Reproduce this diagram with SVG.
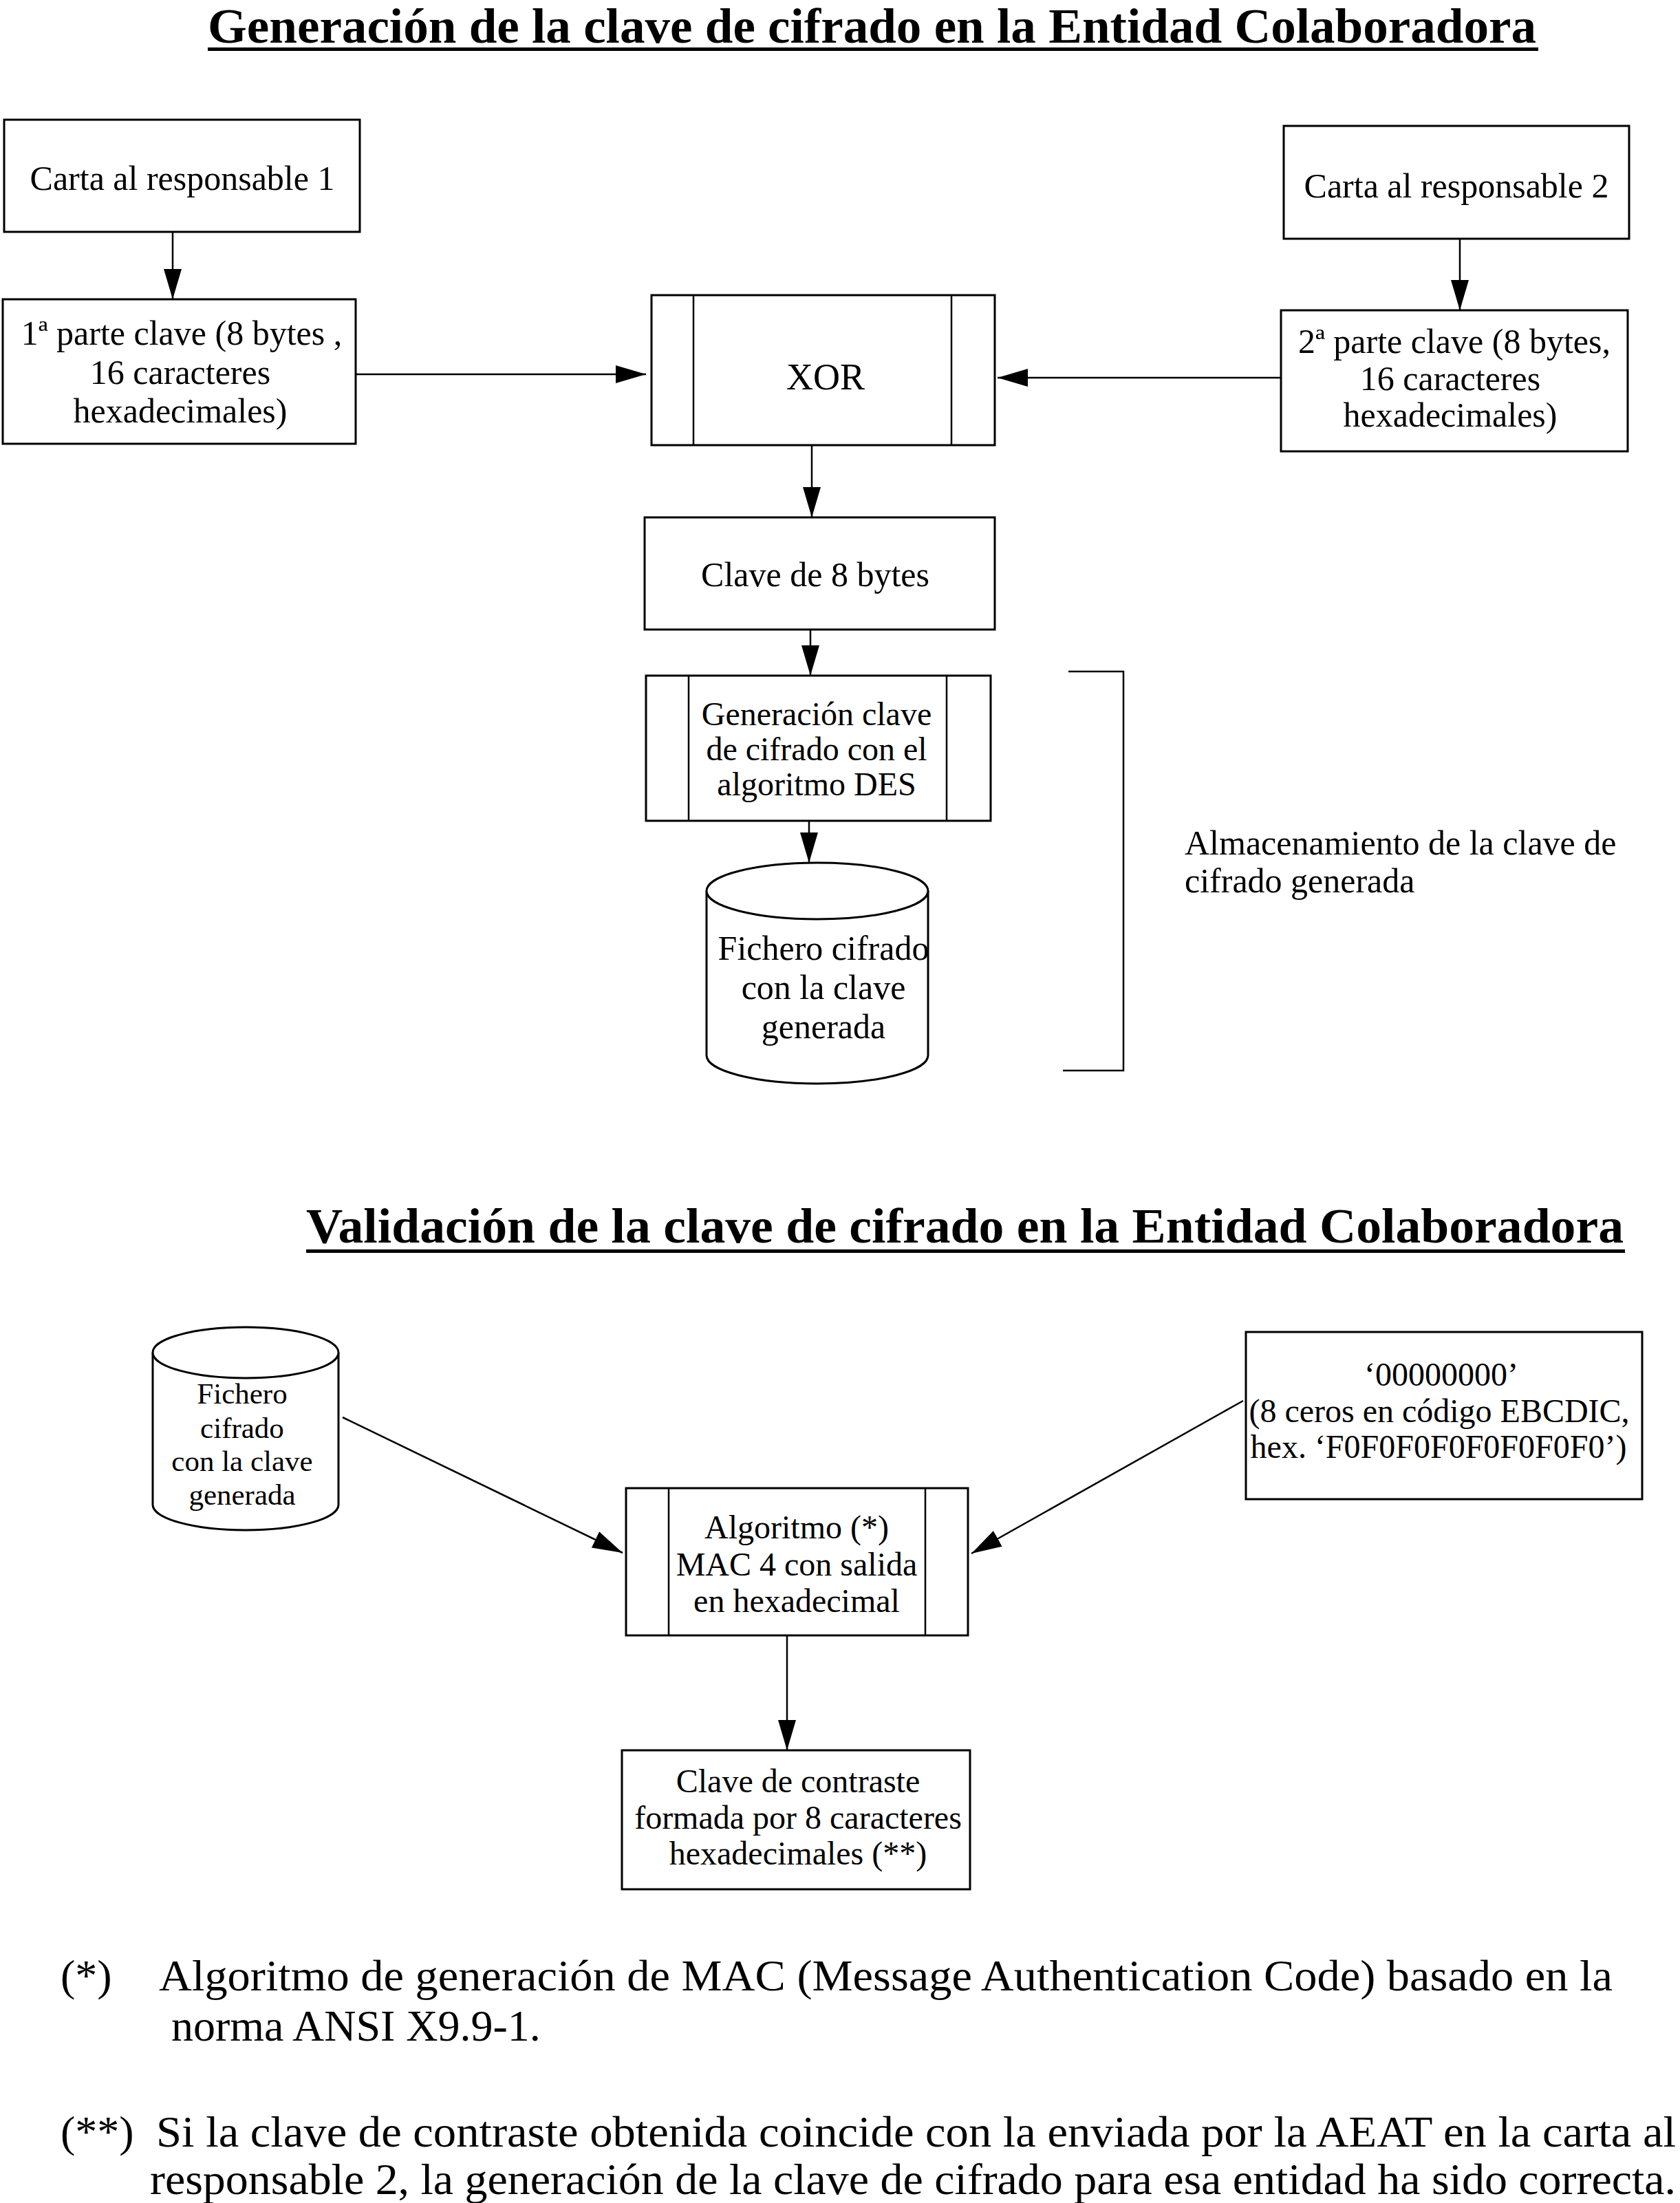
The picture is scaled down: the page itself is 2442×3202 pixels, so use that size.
<svg xmlns="http://www.w3.org/2000/svg" width="2442" height="3202" viewBox="0 0 2442 3202">
<style>
  .bx { fill: #ffffff; stroke: #000000; stroke-width: 3; }
  .ln { fill: none; stroke: #000000; stroke-width: 2.5; }
  .cn { fill: none; stroke: #000000; stroke-width: 2.5; marker-end: url(#ah); }
  .t { font-family: "Liberation Serif", "Times New Roman", serif; fill: #000000; }
  .tt { font-family: "Liberation Serif", "Times New Roman", serif; font-weight: bold; font-size: 72px; fill: #000000; }
  .c { text-anchor: middle; }
  .f50 { font-size: 50px; }
  .f48 { font-size: 48px; }
  .f43 { font-size: 43px; }
  .f64 { font-size: 64px; }
</style>
<defs>
  <marker id="ah" viewBox="0 0 44 26" refX="44" refY="13" markerWidth="44" markerHeight="26" markerUnits="userSpaceOnUse" orient="auto">
    <path d="M0,0 L44,13 L0,26 z" fill="#000000"/>
  </marker>
</defs>
<rect x="0" y="0" width="2442" height="3202" fill="#ffffff"/>

<g id="title-generacion">
  <text class="tt" x="302" y="62" textLength="1931" lengthAdjust="spacingAndGlyphs">Generación de la clave de cifrado en la Entidad Colaboradora</text>
  <rect x="302" y="69" width="1934" height="5" fill="#000000"/>
</g>

<g id="carta1">
  <rect class="bx" x="6" y="174" width="517" height="163"/>
  <text class="t f50 c" x="265" y="276">Carta al responsable 1</text>
</g>

<g id="carta2">
  <rect class="bx" x="1866" y="183" width="502" height="164"/>
  <text class="t f50 c" x="2117" y="287">Carta al responsable 2</text>
</g>

<g id="parte1">
  <rect class="bx" x="4" y="435" width="513" height="210"/>
  <text class="t f50 c" x="264" y="501">1ª parte clave (8 bytes ,</text>
  <text class="t f50 c" x="262" y="558">16 caracteres</text>
  <text class="t f50 c" x="262" y="614">hexadecimales)</text>
</g>

<g id="parte2">
  <rect class="bx" x="1862" y="451" width="504" height="205"/>
  <text class="t f50 c" x="2114" y="513">2ª parte clave (8 bytes,</text>
  <text class="t f50 c" x="2108" y="567">16 caracteres</text>
  <text class="t f50 c" x="2108" y="620">hexadecimales)</text>
</g>

<g id="xor">
  <rect class="bx" x="947" y="429" width="499" height="218"/>
  <line class="ln" x1="1008" y1="429" x2="1008" y2="647"/>
  <line class="ln" x1="1383" y1="429" x2="1383" y2="647"/>
  <text class="t c" font-size="54" x="1200" y="566">XOR</text>
</g>

<g id="clave8">
  <rect class="bx" x="937" y="752" width="509" height="163"/>
  <text class="t f50 c" x="1185" y="852">Clave de 8 bytes</text>
</g>

<g id="des">
  <rect class="bx" x="939" y="982" width="501" height="211"/>
  <line class="ln" x1="1001" y1="982" x2="1001" y2="1193"/>
  <line class="ln" x1="1376" y1="982" x2="1376" y2="1193"/>
  <text class="t f48 c" x="1187" y="1054">Generación clave</text>
  <text class="t f48 c" x="1187" y="1105">de cifrado con el</text>
  <text class="t f48 c" x="1187" y="1156">algoritmo DES</text>
</g>

<g id="fichero1">
  <path class="bx" d="M1027,1295 L1027,1534 A161,41 0 0 0 1349,1534 L1349,1295"/>
  <ellipse class="bx" cx="1188" cy="1295" rx="161" ry="41"/>
  <text class="t f50 c" x="1197" y="1395">Fichero  cifrado</text>
  <text class="t f50 c" x="1197" y="1452">con la clave</text>
  <text class="t f50 c" x="1197" y="1509">generada</text>
</g>

<g id="almacenamiento">
  <polyline class="ln" points="1553,976 1633,976 1633,1556 1545,1556"/>
  <text class="t f50" x="1722" y="1242">Almacenamiento de la clave de</text>
  <text class="t f50" x="1722" y="1297">cifrado generada</text>
</g>

<g id="title-validacion">
  <text class="tt" x="445" y="1806" textLength="1915" lengthAdjust="spacingAndGlyphs">Validación de la clave de cifrado en la Entidad Colaboradora</text>
  <rect x="445" y="1816" width="1917" height="5" fill="#000000"/>
</g>

<g id="fichero2">
  <path class="bx" d="M222,1966 L222,2187 A135,37 0 0 0 492,2187 L492,1966"/>
  <ellipse class="bx" cx="357" cy="1966" rx="135" ry="37"/>
  <text class="t f43 c" x="352" y="2040">Fichero</text>
  <text class="t f43 c" x="352" y="2090">cifrado</text>
  <text class="t f43 c" x="352" y="2138">con la clave</text>
  <text class="t f43 c" x="352" y="2187">generada</text>
</g>

<g id="ceros">
  <rect class="bx" x="1811" y="1936" width="576" height="243"/>
  <text class="t f48 c" x="2095" y="2014">‘00000000’</text>
  <text class="t f48 c" x="2092" y="2067">(8 ceros en código EBCDIC,</text>
  <text class="t f48 c" x="2091" y="2119">hex. ‘F0F0F0F0F0F0F0F0’)</text>
</g>

<g id="algoritmo-mac">
  <rect class="bx" x="910" y="2163" width="497" height="214"/>
  <line class="ln" x1="972" y1="2163" x2="972" y2="2377"/>
  <line class="ln" x1="1345" y1="2163" x2="1345" y2="2377"/>
  <text class="t f48 c" x="1158" y="2236">Algoritmo (*)</text>
  <text class="t f48 c" x="1158" y="2290">MAC 4 con salida</text>
  <text class="t f48 c" x="1158" y="2343">en hexadecimal</text>
</g>

<g id="clave-contraste">
  <rect class="bx" x="904" y="2544" width="506" height="202"/>
  <text class="t f48 c" x="1160" y="2605">Clave de contraste</text>
  <text class="t f48 c" x="1160" y="2658">formada por 8 caracteres</text>
  <text class="t f48 c" x="1160" y="2710">hexadecimales (**)</text>
</g>

<g id="connectors">
  <line class="cn" x1="251" y1="337" x2="251" y2="435"/>
  <line class="cn" x1="2122" y1="347" x2="2122" y2="451"/>
  <line class="cn" x1="517" y1="544" x2="939" y2="544"/>
  <line class="cn" x1="1862" y1="549" x2="1450" y2="549"/>
  <line class="cn" x1="1180" y1="647" x2="1180" y2="752"/>
  <line class="cn" x1="1178" y1="915" x2="1178" y2="982"/>
  <line class="cn" x1="1176" y1="1193" x2="1176" y2="1254"/>
  <line class="cn" x1="498" y1="2060" x2="905" y2="2257"/>
  <line class="cn" x1="1807" y1="2036" x2="1412" y2="2258"/>
  <line class="cn" x1="1144" y1="2377" x2="1144" y2="2544"/>
</g>

<g id="notas">
  <text class="t f64" x="88" y="2893">(*)</text>
  <text class="t f64" x="231" y="2893" textLength="2113" lengthAdjust="spacingAndGlyphs">Algoritmo de generación de MAC (Message Authentication Code) basado en la</text>
  <text class="t f64" x="249" y="2966">norma ANSI X9.9-1.</text>
  <text class="t f64" x="88" y="3120">(**)</text>
  <text class="t f64" x="227" y="3120" textLength="2209" lengthAdjust="spacingAndGlyphs">Si la clave de contraste obtenida coincide con la enviada por la AEAT en la carta al</text>
  <text class="t f64" x="218" y="3189" textLength="2218" lengthAdjust="spacingAndGlyphs">responsable 2, la generación de la clave de cifrado para esa entidad ha sido correcta.</text>
</g>
</svg>
